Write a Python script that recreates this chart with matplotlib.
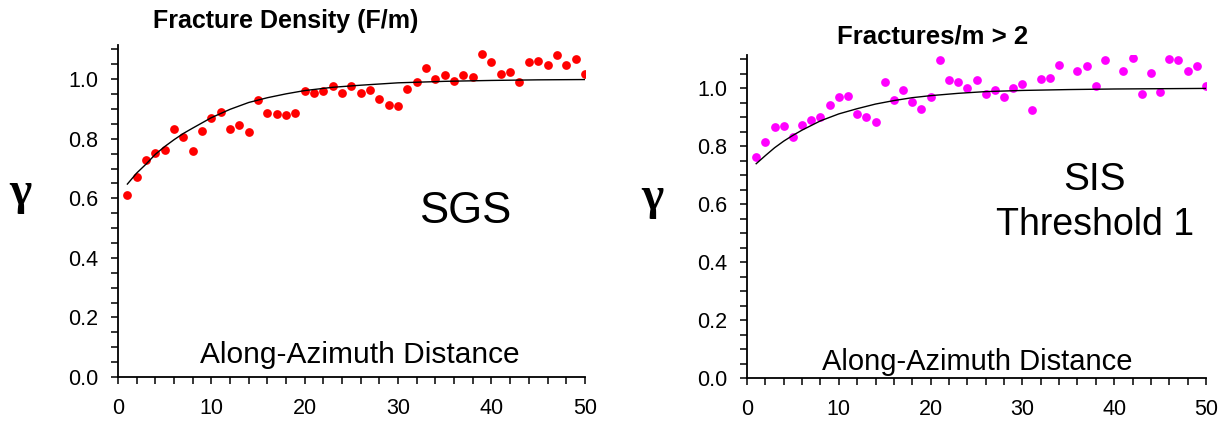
import matplotlib
matplotlib.use('Agg')
import matplotlib.pyplot as plt
from matplotlib.ticker import MultipleLocator, FormatStrFormatter
import numpy as np

plt.rcParams['font.family'] = ['Liberation Sans', 'DejaVu Sans']

# --- experimental variogram points, lag 1..50 ---
lags = list(range(1, 51))

sgs_gamma = [0.612, 0.673, 0.728, 0.752, 0.762, 0.833, 0.806, 0.759, 0.826, 0.871,
             0.890, 0.832, 0.847, 0.823, 0.931, 0.887, 0.883, 0.879, 0.886, 0.962,
             0.954, 0.960, 0.976, 0.953, 0.979, 0.953, 0.964, 0.933, 0.913, 0.909,
             0.967, 0.991, 1.039, 1.001, 1.014, 0.994, 1.014, 1.009, 1.086, 1.057,
             1.016, 1.023, 0.991, 1.059, 1.061, 1.048, 1.083, 1.049, 1.067, 1.016]

# two lags have no point in the right panel
sis_gamma = [0.763, 0.815, 0.867, 0.869, 0.832, 0.872, 0.890, 0.902, 0.944, 0.971,
             0.974, 0.913, 0.901, 0.885, 1.022, 0.959, 0.995, 0.952, 0.930, 0.970,
             1.099, 1.028, 1.023, 1.000, 1.029, 0.979, 0.995, 0.971, 1.000, 1.016,
             0.924, 1.034, 1.037, 1.082, np.nan, 1.059, 1.076, 1.009, 1.097, np.nan,
             1.059, 1.105, 0.982, 1.054, 0.986, 1.103, 1.098, 1.059, 1.077, 1.008]

# --- fitted model curves ---
sgs_model_h = [1, 2, 3, 4, 5, 6, 7, 8, 10, 12, 14, 16, 18, 20, 23, 26, 30, 35, 40, 45, 50]
sgs_model_g = [0.648, 0.685, 0.715, 0.748, 0.774, 0.797, 0.818, 0.836, 0.871, 0.899,
               0.922, 0.938, 0.951, 0.962, 0.973, 0.980, 0.988, 0.993, 0.996, 0.998, 0.999]

sis_model_h = [1, 2, 3, 4, 5, 6, 7, 8, 10, 12, 14, 16, 18, 20, 23, 26, 30, 35, 40, 45, 50]
sis_model_g = [0.740, 0.768, 0.795, 0.818, 0.838, 0.856, 0.872, 0.888, 0.912, 0.930,
               0.946, 0.958, 0.968, 0.975, 0.983, 0.989, 0.993, 0.996, 0.998, 0.999, 1.000]

fig = plt.figure(figsize=(12.22, 4.21), dpi=100)
ax1 = fig.add_axes([0.0966, 0.1045, 0.382, 0.7886])
ax2 = fig.add_axes([0.6113, 0.1021, 0.3756, 0.767])


def style_axis(ax):
    ax.set_xlim(0, 50)
    ax.set_ylim(0, 1.115)
    for side in ('top', 'right'):
        ax.spines[side].set_visible(False)
    for side in ('left', 'bottom'):
        ax.spines[side].set_linewidth(1.3)
    ax.xaxis.set_major_locator(MultipleLocator(10))
    ax.xaxis.set_minor_locator(MultipleLocator(2))
    ax.yaxis.set_major_locator(MultipleLocator(0.2))
    ax.yaxis.set_minor_locator(MultipleLocator(0.05))
    ax.yaxis.set_major_formatter(FormatStrFormatter('%.1f'))
    ax.tick_params(which='both', direction='out', length=5, width=1.1, color='black')
    ax.tick_params(axis='x', labelsize=15.5, pad=10)
    ax.tick_params(axis='y', labelsize=15.5, pad=9)


# left panel: SGS
ax1.plot(lags, sgs_gamma, 'o', color='#ff0000', markersize=6.3, markeredgewidth=0)
ax1.plot(sgs_model_h, sgs_model_g, color='black', linewidth=1.0)
style_axis(ax1)
ax1.text(18, 1.195, 'Fracture Density (F/m)', ha='center', va='center',
         fontsize=18, fontweight='bold', clip_on=False)
ax1.text(37.2, 0.556, 'SGS', ha='center', va='center', fontsize=31.5)
ax1.text(25.9, 0.074, 'Along-Azimuth Distance', ha='center', va='center', fontsize=21.5)

# right panel: SIS threshold 1
ax2.plot(lags, sis_gamma, 'o', color='#ff00ff', markersize=6.3, markeredgewidth=0)
ax2.plot(sis_model_h, sis_model_g, color='black', linewidth=1.0)
style_axis(ax2)
ax2.text(20.2, 1.18, 'Fractures/m > 2', ha='center', va='center',
         fontsize=18.5, fontweight='bold', clip_on=False)
ax2.text(37.9, 0.685, 'SIS', ha='center', va='center', fontsize=28)
ax2.text(37.9, 0.529, 'Threshold 1', ha='center', va='center', fontsize=27)
ax2.text(25.05, 0.055, 'Along-Azimuth Distance', ha='center', va='center', fontsize=21)

# gamma symbols as y labels
fig.text(20 / 1222, 1 - 193 / 421, 'γ', ha='center', va='center', fontsize=34,
         fontweight='bold', family=['Liberation Serif', 'DejaVu Serif'])
fig.text(652 / 1222, 1 - 198 / 421, 'γ', ha='center', va='center', fontsize=34,
         fontweight='bold', family=['Liberation Serif', 'DejaVu Serif'])

fig.savefig('out.png', dpi=100)
